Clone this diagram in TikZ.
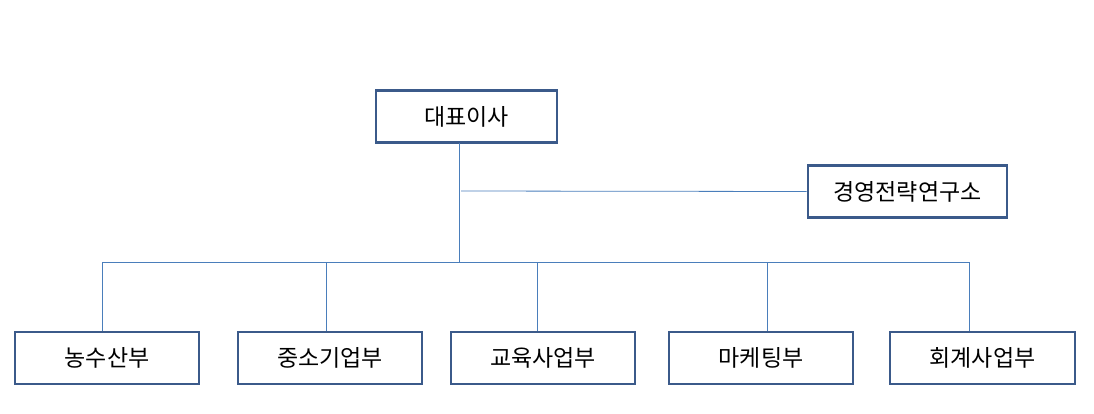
\documentclass[tikz,border=0pt]{standalone}
\usepackage{fontspec}
\newfontfamily\kr{Noto Sans CJK KR}
\definecolor{boxc}{HTML}{3B5A8A}
\definecolor{linec}{HTML}{4A7EBB}
\begin{document}
\begin{tikzpicture}[x=1pt,y=-1pt,
  box/.style={draw=boxc,line width=2.6pt,fill=white,minimum height=52pt,inner sep=0pt,font=\kr\fontsize{23}{26}\selectfont},
  conn/.style={draw=linec,line width=0.8pt}]
\useasboundingbox (0,0) rectangle (1094,413);
\node[box,minimum width=181pt] (ceo) at (466.5,116.5) {대표이사};
\node[box,minimum width=199pt] (lab) at (907.5,191.5) {경영전략연구소};
\node[box,minimum width=184pt] (b1) at (107,358) {농수산부};
\node[box,minimum width=184pt] (b2) at (330,358) {중소기업부};
\node[box,minimum width=184pt] (b3) at (543,358) {교육사업부};
\node[box,minimum width=184pt] (b4) at (761,358) {마케팅부};
\node[box,minimum width=185pt] (b5) at (982.5,358) {회계사업부};
\coordinate (top) at (459,143);
\coordinate (bar) at (459,262);
\coordinate (mid) at (461,191);
\draw[conn] (top) -- (bar);
\draw[conn] (mid) -- (lab.west);
\draw[conn] (102,262) -- (970,262);
\draw[conn] (102,262) -- (102,331);
\draw[conn] (326,262) -- (326,331);
\draw[conn] (537,262) -- (537,331);
\draw[conn] (767,262) -- (767,331);
\draw[conn] (969,262) -- (969,331);
\end{tikzpicture}
\end{document}
